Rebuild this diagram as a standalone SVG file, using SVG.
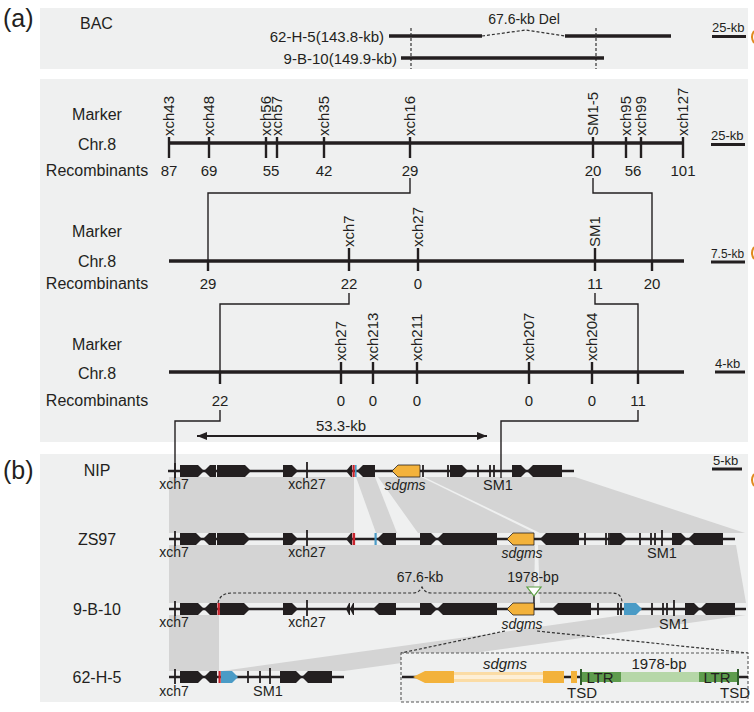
<svg xmlns="http://www.w3.org/2000/svg" width="754" height="712" viewBox="0 0 754 712">
<defs>
<style>
.bg{fill:#EFF0F0}
.t{font-family:"Liberation Sans",Arial,Helvetica,sans-serif;fill:#231F20}
.f16{font-size:16px}
.f15{font-size:15px}
.f14{font-size:14px}
.f13{font-size:13px}
.chr{stroke:#231F20;stroke-width:3.4;fill:none}
.tk{stroke:#231F20;stroke-width:2.4}
.cn{stroke:#231F20;stroke-width:1.4;fill:none}
.ln{stroke:#231F20;stroke-width:2.4}
.gt{stroke:#231F20;stroke-width:1.8}
.g{fill:#231F20}
.or{fill:#F3B23B;stroke:#231F20;stroke-width:0.8}
.red{fill:#C8232C}
.blu{fill:#4A9BC6}
.band{fill:#D4D4D4}
.dsh{stroke:#333;stroke-width:1.2;fill:none;stroke-dasharray:3 2}
.it{font-style:italic}
.sb{stroke:#231F20;stroke-width:3}
</style>
<marker id="ah" viewBox="0 0 10 8" refX="10" refY="4" markerWidth="10" markerHeight="8" markerUnits="userSpaceOnUse" orient="auto-start-reverse"><path d="M0,0 L10,4 L0,8 z" fill="#231F20"/></marker>
</defs>

<!-- panel backgrounds -->
<rect class="bg" x="40" y="8" width="708" height="61"/>
<rect class="bg" x="40" y="79" width="708" height="363"/>
<rect class="bg" x="40" y="454" width="708" height="248"/>

<text class="t" x="3" y="27" font-size="25">(a)</text>
<text class="t" x="3" y="479" font-size="25">(b)</text>

<!-- BAC -->
<g id="bac">
<text class="t f16" x="80" y="29">BAC</text>
<text class="t f14" x="524" y="24" text-anchor="middle">67.6-kb Del</text>
<text class="t f15" x="384" y="42" text-anchor="end">62-H-5(143.8-kb)</text>
<text class="t f15" x="397" y="64" text-anchor="end">9-B-10(149.9-kb)</text>
<line class="chr" x1="389" y1="36" x2="482" y2="36"/>
<line class="chr" x1="565" y1="36" x2="671" y2="36"/>
<path class="dsh" d="M482,36 L526,30 L565,36"/>
<line class="dsh" x1="411" y1="28" x2="411" y2="69"/>
<line class="dsh" x1="596" y1="28" x2="596" y2="69"/>
<line class="chr" x1="401" y1="58" x2="604" y2="58"/>
<text class="t f13" x="712" y="32">25-kb</text>
<line class="sb" x1="712" y1="36.5" x2="746" y2="36.5"/>
</g>

<!-- row 1 -->
<g id="row1">
<text class="t f16" x="97" y="120" text-anchor="middle">Marker</text>
<text class="t f16" x="97" y="150" text-anchor="middle">Chr.8</text>
<text class="t f16" x="97" y="176" text-anchor="middle">Recombinants</text>
<line class="chr" x1="168" y1="143" x2="684" y2="143"/>
<g class="tk">
<line x1="169" y1="137" x2="169" y2="158"/><line x1="209" y1="137" x2="209" y2="158"/>
<line x1="266" y1="137" x2="266" y2="158"/><line x1="277" y1="137" x2="277" y2="158"/>
<line x1="324" y1="137" x2="324" y2="158"/><line x1="410" y1="137" x2="410" y2="158"/>
<line x1="593" y1="137" x2="593" y2="158"/><line x1="626" y1="137" x2="626" y2="158"/>
<line x1="641" y1="137" x2="641" y2="158"/><line x1="683" y1="137" x2="683" y2="158"/>
</g>
<g class="t f15">
<text transform="translate(174,136) rotate(-90)">xch43</text>
<text transform="translate(214,136) rotate(-90)">xch48</text>
<text transform="translate(271,136) rotate(-90)">xch56</text>
<text transform="translate(282,136) rotate(-90)">xch57</text>
<text transform="translate(329,136) rotate(-90)">xch35</text>
<text transform="translate(415,136) rotate(-90)">xch16</text>
<text transform="translate(598,136) rotate(-90)">SM1-5</text>
<text transform="translate(631,136) rotate(-90)">xch95</text>
<text transform="translate(646,136) rotate(-90)">xch99</text>
<text transform="translate(688,136) rotate(-90)">xch127</text>
</g>
<g class="t f15" text-anchor="middle">
<text x="169" y="176">87</text><text x="209" y="176">69</text><text x="271" y="176">55</text>
<text x="324" y="176">42</text><text x="410" y="176">29</text><text x="593" y="176">20</text>
<text x="633" y="176">56</text><text x="683" y="176">101</text>
</g>
<text class="t f13" x="711" y="140">25-kb</text>
<line class="sb" x1="711" y1="144.5" x2="745" y2="144.5"/>
</g>

<!-- row 2 -->
<g id="row2">
<text class="t f16" x="97" y="237" text-anchor="middle">Marker</text>
<text class="t f16" x="97" y="267" text-anchor="middle">Chr.8</text>
<text class="t f16" x="97" y="289" text-anchor="middle">Recombinants</text>
<line class="chr" x1="169" y1="261" x2="684" y2="261"/>
<g class="tk">
<line x1="208" y1="261" x2="208" y2="271"/><line x1="349" y1="248" x2="349" y2="271"/>
<line x1="418" y1="248" x2="418" y2="271"/><line x1="595" y1="248" x2="595" y2="271"/>
<line x1="652" y1="261" x2="652" y2="271"/>
</g>
<g class="t f15">
<text transform="translate(354,247) rotate(-90)">xch7</text>
<text transform="translate(423,247) rotate(-90)">xch27</text>
<text transform="translate(600,247) rotate(-90)">SM1</text>
</g>
<g class="t f15" text-anchor="middle">
<text x="208" y="289">29</text><text x="349" y="289">22</text><text x="418" y="289">0</text>
<text x="595" y="289">11</text><text x="652" y="289">20</text>
</g>
<text class="t" x="711" y="258" font-size="12" textLength="33" lengthAdjust="spacingAndGlyphs">7.5-kb</text>
<line class="sb" x1="711" y1="262" x2="745" y2="262"/>
</g>

<!-- row 3 -->
<g id="row3">
<text class="t f16" x="97" y="350" text-anchor="middle">Marker</text>
<text class="t f16" x="97" y="379" text-anchor="middle">Chr.8</text>
<text class="t f16" x="97" y="406" text-anchor="middle">Recombinants</text>
<line class="chr" x1="169" y1="372" x2="684" y2="372"/>
<g class="tk">
<line x1="220" y1="372" x2="220" y2="384"/><line x1="341" y1="362" x2="341" y2="384"/>
<line x1="373" y1="362" x2="373" y2="384"/><line x1="417" y1="362" x2="417" y2="384"/>
<line x1="529" y1="362" x2="529" y2="384"/><line x1="592" y1="362" x2="592" y2="384"/>
<line x1="638" y1="372" x2="638" y2="384"/>
</g>
<g class="t f15">
<text transform="translate(346,361) rotate(-90)">xch27</text>
<text transform="translate(378,361) rotate(-90)">xch213</text>
<text transform="translate(422,361) rotate(-90)">xch211</text>
<text transform="translate(534,361) rotate(-90)">xch207</text>
<text transform="translate(597,361) rotate(-90)">xch204</text>
</g>
<g class="t f15" text-anchor="middle">
<text x="220" y="406">22</text><text x="341" y="406">0</text><text x="373" y="406">0</text>
<text x="417" y="406">0</text><text x="529" y="406">0</text><text x="592" y="406">0</text>
<text x="638" y="406">11</text>
</g>
<text class="t f13" x="715" y="368">4-kb</text>
<line class="sb" x1="715" y1="372" x2="745" y2="372"/>
<text class="t f15" x="341" y="431" text-anchor="middle">53.3-kb</text>
<line x1="197" y1="436" x2="487" y2="436" stroke="#231F20" stroke-width="1.8" marker-start="url(#ah)" marker-end="url(#ah)"/>
</g>

<!-- synteny bands -->
<g id="bands">
<polygon class="band" points="169,477 354,477 354,533 169,533"/>
<polygon class="band" points="356,477 375,477 397,533 376,533"/>
<polygon class="band" points="378,477 421,477 535,533 418,533"/>
<polygon class="band" points="424,477 575,477 745,533 540,533"/>
<polygon class="band" points="169,545 535,545 534,603 169,603"/>
<polygon class="band" points="538,545 736,545 746,603 540,603"/>
<polygon class="band" points="169,615 219,615 219,671 169,671"/>
<polygon class="band" points="624,615 746,615 344,671 222,671"/>
</g>

<!-- connectors -->
<g id="connectors" class="cn">
<path d="M410,178 V193 H208 V261"/>
<path d="M593,178 V193 H652 V261"/>
<path d="M349,293 V304 H220 V372"/>
<path d="M595,293 V304 H638 V372"/>
<path d="M220,410 V421 H175 V478"/>
<path d="M638,410 V421 H501 V478"/>
</g>

<!-- NIP -->
<g id="nip">
<text class="t f16" x="97" y="476" text-anchor="middle">NIP</text>
<line class="ln" x1="168" y1="471" x2="574" y2="471"/>
<g class="g">
<polygon points="180,465 198,465 204,471 198,477 180,477"/>
<polygon points="204,471 210,465 216,465 216,477 210,477"/>
<polygon points="217,465 245,465 251,471 245,477 217,477"/>
<polygon points="283,465 292,465 298,471 292,477 283,477"/>
<polygon points="346,471 351,465 352,465 352,477 351,477"/>
<polygon points="357,471 363,465 375,465 375,477 363,477"/>
<polygon points="450,465 462,465 468,471 462,477 450,477"/>
<polygon points="512,465 521,465 527,471 521,477 512,477"/>
<polygon points="527,471 533,465 562,465 562,477 533,477"/>
</g>
<rect class="red" x="352.5" y="465" width="2.2" height="12"/>
<rect class="blu" x="355" y="465" width="1.6" height="12"/>
<polygon class="or" points="392,471 398,465 420,465 420,477 398,477"/>
<g class="gt">
<line x1="175" y1="463" x2="175" y2="478"/><line x1="307" y1="462" x2="307" y2="478"/>
<line x1="423" y1="465" x2="423" y2="477"/><line x1="448" y1="465" x2="448" y2="477"/>
<line x1="478" y1="465" x2="478" y2="477"/><line x1="490" y1="465" x2="490" y2="477"/>
<line x1="494" y1="465" x2="494" y2="477"/>
</g>
<g class="t f14" text-anchor="middle">
<text x="174" y="489">xch7</text><text x="307" y="489">xch27</text>
<text x="405" y="490" class="it">sdgms</text><text x="498" y="490" font-size="14.5">SM1</text>
</g>
<text class="t f13" x="713" y="465">5-kb</text>
<line class="sb" x1="712" y1="469" x2="742" y2="469"/>
</g>

<!-- ZS97 -->
<g id="zs97">
<text class="t f16" x="97" y="545" text-anchor="middle">ZS97</text>
<line class="ln" x1="169" y1="539" x2="735" y2="539"/>
<g class="g">
<polygon points="180,533 196,533 202,539 196,545 180,545"/>
<polygon points="203,539 209,533 216,533 216,545 209,545"/>
<polygon points="217,533 244,533 250,539 244,545 217,545"/>
<polygon points="283,533 292,533 298,539 292,545 283,545"/>
<polygon points="346,539 351,533 352,533 352,545 351,545"/>
<polygon points="377,539 383,533 396,533 396,545 383,545"/>
<polygon points="420,533 431,533 437,539 431,545 420,545"/>
<polygon points="437,539 443,533 497,533 497,545 443,545"/>
<polygon points="540,539 546,533 579,533 579,545 546,545"/>
<polygon points="610,533 621,533 627,539 621,545 610,545"/>
<polygon points="672,533 681,533 687,539 681,545 672,545"/>
<polygon points="688,539 694,533 723,533 723,545 694,545"/>
</g>
<rect class="red" x="352.5" y="533" width="2.6" height="12"/>
<rect class="blu" x="374.5" y="533" width="2.2" height="12"/>
<polygon class="or" points="507,539 513,533 534,533 534,545 513,545"/>
<g class="gt">
<line x1="175" y1="531" x2="175" y2="546"/><line x1="307" y1="530" x2="307" y2="546"/>
<line x1="585" y1="533" x2="585" y2="545"/><line x1="606" y1="533" x2="606" y2="545"/>
<line x1="609" y1="533" x2="609" y2="545"/><line x1="640" y1="533" x2="640" y2="545"/>
<line x1="651" y1="533" x2="651" y2="545"/><line x1="655" y1="533" x2="655" y2="545"/>
<line x1="662" y1="530" x2="662" y2="546"/>
</g>
<g class="t f14" text-anchor="middle">
<text x="174" y="557">xch7</text><text x="307" y="557">xch27</text>
<text x="522" y="558" class="it">sdgms</text><text x="662" y="558" font-size="14.5">SM1</text>
</g>
</g>

<!-- 9-B-10 -->
<g id="b910">
<text class="t f16" x="97" y="615" text-anchor="middle">9-B-10</text>
<path class="dsh" d="M218,603 Q220,593 232,593 L413,593 Q419,593 422,587 Q425,593 431,593 L612,593 Q622,593 622,603"/>
<text class="t f14" x="420" y="582" text-anchor="middle">67.6-kb</text>
<text class="t f14" x="533" y="582" text-anchor="middle">1978-bp</text>
<line x1="534" y1="596" x2="534" y2="609" stroke="#231F20" stroke-width="1.5"/>
<polygon points="527,587 541,587 534,596" fill="#FFFFFF" stroke="#5CA044" stroke-width="1.2"/>
<line class="ln" x1="169" y1="609" x2="746" y2="609"/>
<g class="g">
<polygon points="180,603 198,603 204,609 198,615 180,615"/>
<polygon points="204,609 210,603 217,603 217,615 210,615"/>
<polygon points="220,603 244,603 250,609 244,615 220,615"/>
<polygon points="283,603 292,603 298,609 292,615 283,615"/>
<polygon points="346,609 349,603 350,603 350,615 349,615"/>
<polygon points="350,609 353,603 354,603 354,615 353,615"/>
<polygon points="373,609 379,603 396,603 396,615 379,615"/>
<polygon points="420,603 431,603 437,609 431,615 420,615"/>
<polygon points="437,609 443,603 497,603 497,615 443,615"/>
<polygon points="552,609 558,603 591,603 591,615 558,615"/>
<polygon points="685,603 694,603 700,609 694,615 685,615"/>
<polygon points="700,609 706,603 735,603 735,615 706,615"/>
</g>
<rect class="red" x="217.5" y="603" width="2.4" height="12"/>
<polygon class="blu" points="624,603 636,603 642,609 636,615 624,615"/>
<polygon class="or" points="507,609 513,603 534,603 534,615 513,615"/>
<g class="gt">
<line x1="175" y1="601" x2="175" y2="616"/><line x1="307" y1="600" x2="307" y2="616"/>
<line x1="598" y1="603" x2="598" y2="615"/><line x1="618" y1="603" x2="618" y2="615"/>
<line x1="621" y1="603" x2="621" y2="615"/><line x1="652" y1="603" x2="652" y2="615"/>
<line x1="663" y1="603" x2="663" y2="615"/><line x1="667" y1="603" x2="667" y2="615"/>
<line x1="674" y1="600" x2="674" y2="616"/>
</g>
<g class="t f14" text-anchor="middle">
<text x="174" y="627">xch7</text><text x="307" y="627">xch27</text>
<text x="522" y="629" class="it">sdgms</text><text x="674" y="629" font-size="14.5">SM1</text>
</g>
<line class="dsh" x1="505" y1="631" x2="401" y2="653"/>
<line class="dsh" x1="537" y1="631" x2="748" y2="653"/>
</g>

<!-- 62-H-5 -->
<g id="h625">
<text class="t f16" x="97" y="683" text-anchor="middle">62-H-5</text>
<line class="ln" x1="169" y1="677" x2="344" y2="677"/>
<g class="g">
<polygon points="180,671 198,671 204,677 198,683 180,683"/>
<polygon points="204,677 210,671 217,671 217,683 210,683"/>
<polygon points="280,671 296,671 302,677 296,683 280,683"/>
<polygon points="302,677 308,671 332,671 332,683 308,683"/>
</g>
<rect class="red" x="218.5" y="671" width="2.2" height="12"/>
<polygon class="blu" points="221,671 232,671 238,677 232,683 221,683"/>
<g class="gt">
<line x1="175" y1="669" x2="175" y2="684"/><line x1="248" y1="671" x2="248" y2="683"/>
<line x1="260" y1="671" x2="260" y2="683"/><line x1="270" y1="668" x2="270" y2="684"/>
</g>
<g class="t f14" text-anchor="middle">
<text x="174" y="696">xch7</text><text x="268" y="696" font-size="14.5">SM1</text>
</g>
</g>

<!-- inset -->
<g id="inset">
<rect x="401" y="653" width="347" height="49" fill="#EFF0F0" stroke="#555" stroke-width="1.1" stroke-dasharray="3 2"/>
<line class="ln" x1="402" y1="677" x2="748" y2="677"/>
<polygon points="413,677 425,671 454,671 454,683 425,683" fill="#F3B23B"/>
<rect x="454" y="672" width="89" height="10" fill="#FBDCA5"/>
<rect x="454" y="675" width="89" height="4" fill="#FDEFD6"/>
<rect x="543" y="671" width="21" height="12" fill="#F3B23B"/>
<rect x="571" y="671" width="6" height="12" fill="#F3B23B"/>
<rect x="582" y="672" width="39" height="10" fill="#5E9C4D"/>
<rect x="621" y="672" width="78" height="10" fill="#B6D7A8"/>
<rect x="699" y="672" width="38" height="10" fill="#5E9C4D"/>
<line x1="581" y1="669" x2="581" y2="685" stroke="#2F5E2A" stroke-width="2"/>
<line x1="738" y1="669" x2="738" y2="685" stroke="#2F5E2A" stroke-width="2"/>
<text class="t f15" x="600" y="683" text-anchor="middle">LTR</text>
<text class="t f15" x="717" y="683" text-anchor="middle">LTR</text>
<text class="t f15 it" x="505" y="669" text-anchor="middle">sdgms</text>
<text class="t f15" x="659" y="669" text-anchor="middle">1978-bp</text>
<text class="t f15" x="582" y="698" text-anchor="middle">TSD</text>
<text class="t f15" x="735" y="698" text-anchor="middle">TSD</text>
</g>

<!-- cropped glyph fragments at right edge -->
<g fill="none" stroke="#E08A1E" stroke-width="2">
<path d="M754,31 Q750,37 754,43"/>
<path d="M754,247 Q750,253 754,259"/>
<path d="M754,474 Q750,480 754,486"/>
</g>
</svg>
